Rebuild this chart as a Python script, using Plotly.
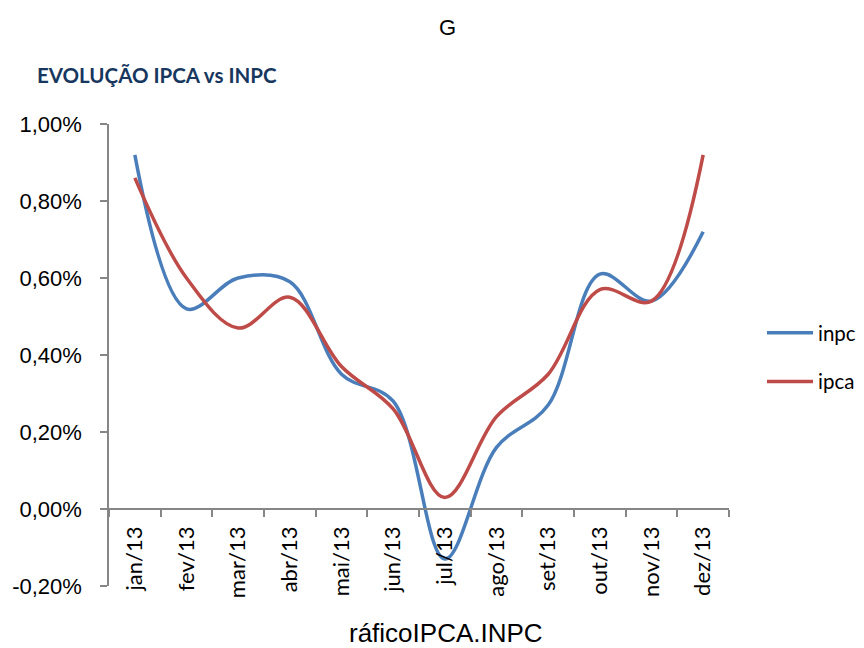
import plotly.graph_objects as go

months = ["jan/13", "fev/13", "mar/13", "abr/13", "mai/13", "jun/13",
          "jul/13", "ago/13", "set/13", "out/13", "nov/13", "dez/13"]
inpc = [0.92, 0.52, 0.60, 0.59, 0.35, 0.28, -0.13, 0.16, 0.27, 0.61, 0.54, 0.72]
ipca = [0.86, 0.60, 0.47, 0.55, 0.37, 0.26, 0.03, 0.24, 0.35, 0.57, 0.54, 0.92]
y_tickvals = [-0.2, 0.0, 0.2, 0.4, 0.6, 0.8, 1.0]
y_ticktext = ["-0,20%", "0,00%", "0,20%", "0,40%", "0,60%", "0,80%", "1,00%"]

OFF = 8  # page body margin
W, H = 864, 648
# plot area in screen pixels: x 109..729, y 124..586
L, T = 109 - OFF, 124 - OFF
R = W - (729 - OFF)
B = H - (586 - OFF)
pw, ph = W - L - R, H - T - B

def px_x(p):
    return (p - OFF - L) / pw

def px_y(p):
    return (H - B - (p - OFF)) / ph

fig = go.Figure()
fig.add_trace(go.Scatter(x=months, y=inpc, name="inpc", mode="lines",
                         line=dict(color="#4A7EBB", width=3.5, shape="spline", smoothing=1),
                         legendgroup="a"))
fig.add_trace(go.Scatter(x=months, y=ipca, name="ipca", mode="lines",
                         line=dict(color="#BE4B48", width=3.5, shape="spline", smoothing=1),
                         legendgroup="b"))

ymin, ymax = -0.2, 1.0
fig.update_layout(
    width=W, height=H,
    margin=dict(l=L, r=R, t=T, b=B, autoexpand=False),
    paper_bgcolor="white", plot_bgcolor="white",
    font=dict(family="Liberation Sans, Arial", color="black"),
    showlegend=True,
    legend=dict(x=px_x(762), y=px_y(313), xanchor="left", yanchor="top",
                font=dict(family="Lato, Open Sans", size=20.5, color="black"),
                itemwidth=46, tracegroupgap=19, bgcolor="rgba(0,0,0,0)"),
    xaxis=dict(type="category", range=[-0.5, 11.5], anchor="free",
               position=(0 - ymin) / (ymax - ymin), automargin=False,
               showline=True, linecolor="#868686", linewidth=1.5,
               ticks="outside", ticklen=7, tickcolor="#868686", tickwidth=1.5,
               tickson="boundaries", tickangle=-90, showgrid=False, zeroline=False,
               ticklabelstandoff=8,
               tickfont=dict(family="Lato, Open Sans", size=22, color="black")),
    yaxis=dict(range=[ymin, ymax], tickvals=y_tickvals, ticktext=y_ticktext,
               automargin=False,
               showline=True, linecolor="#868686", linewidth=1.5,
               ticks="outside", ticklen=7, tickcolor="#868686", tickwidth=1.5,
               showgrid=False, zeroline=False, ticklabelstandoff=14,
               tickfont=dict(family="Liberation Sans, Arial", size=22, color="black")),
    annotations=[
        dict(text="G", xref="paper", yref="paper", x=px_x(447), y=px_y(28),
             xanchor="center", yanchor="middle", showarrow=False,
             font=dict(family="Liberation Sans, Arial", size=22, color="black")),
        dict(text="<b>EVOLUÇÃO IPCA vs INPC</b>", xref="paper", yref="paper",
             x=px_x(35), y=px_y(75), xanchor="left", yanchor="middle", showarrow=False,
             font=dict(family="Lato, Open Sans", size=20.5, color="#17375E")),
        dict(text="ráficoIPCA.INPC", xref="paper", yref="paper", x=px_x(446), y=px_y(633),
             xanchor="center", yanchor="middle", showarrow=False,
             font=dict(family="Liberation Sans, Arial", size=26, color="black")),
    ],
)

fig.write_html("out.html")
